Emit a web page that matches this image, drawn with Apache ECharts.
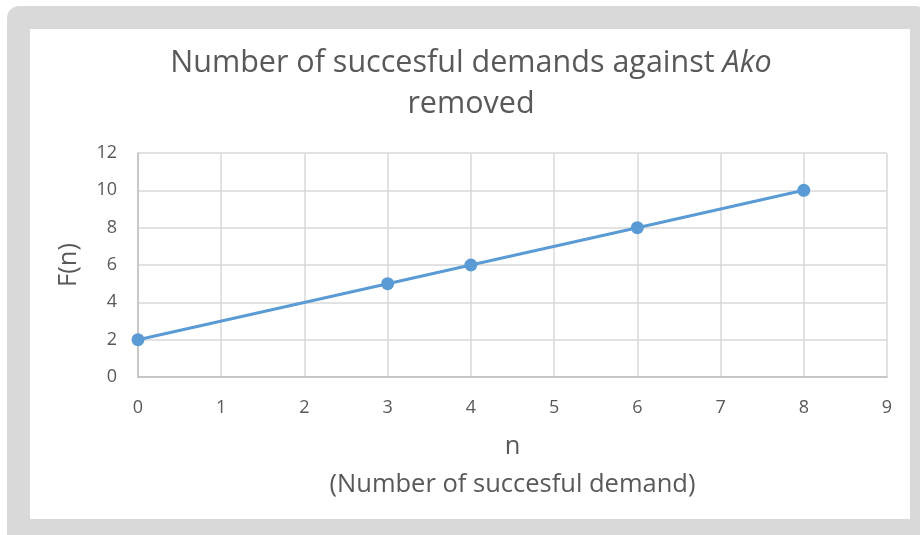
<!DOCTYPE html>
<html>
<head>
<meta charset="utf-8">
<script src="https://cdn.jsdelivr.net/npm/echarts@6/dist/echarts.min.js"></script>
<style>
  html, body { margin: 0; padding: 0; background: #fff; }
  #chart { width: 920px; height: 535px; }
</style>
</head>
<body>
<div id="chart"></div>
<script>
const nValues = [0, 3, 4, 6, 8];
const fValues = [2, 5, 6, 8, 10];

const font = "'Open Sans', 'Liberation Sans', sans-serif";
const textColor = '#595959';

const chart = echarts.init(document.getElementById('chart'), null, { renderer: 'canvas' });

const option = {
  animation: false,
  graphic: [
    { type: 'rect', z: -10, shape: { x: 7, y: 6, width: 920, height: 540, r: 12 }, style: { fill: '#d9d9d9' } },
    { type: 'rect', z: -9, shape: { x: 30, y: 29, width: 880, height: 490 }, style: { fill: '#ffffff' } }
  ],
  title: {
    text: 'Number of succesful demands against {i|Ako}\nremoved',
    left: 466,
    textAlign: 'center',
    top: 38,
    textStyle: {
      fontFamily: font,
      fontSize: 30.5,
      fontWeight: 'normal',
      color: textColor,
      lineHeight: 41,
      rich: {
        i: { fontFamily: font, fontSize: 30.5, fontStyle: 'italic', color: textColor, lineHeight: 41 }
      }
    }
  },
  grid: { left: 138, right: 33, top: 153, bottom: 158 },
  xAxis: {
    type: 'value',
    min: 0,
    max: 9,
    interval: 1,
    name: 'n\n(Number of succesful demand)',
    nameLocation: 'middle',
    nameGap: 51,
    nameTextStyle: { fontFamily: font, fontSize: 25.5, color: textColor, lineHeight: 38 },
    axisLine: { show: true, lineStyle: { color: '#bfbfbf', width: 1.5 } },
    axisTick: { show: false },
    axisLabel: { fontFamily: font, fontSize: 18, color: textColor, margin: 22 },
    splitLine: { show: true, lineStyle: { color: '#d9d9d9', width: 1.5 } }
  },
  yAxis: {
    type: 'value',
    min: 0,
    max: 12,
    interval: 2,
    name: 'F(n)',
    nameLocation: 'middle',
    nameGap: 56,
    nameTextStyle: { fontFamily: font, fontSize: 25.5, color: textColor },
    axisLine: { show: true, lineStyle: { color: '#bfbfbf', width: 1.5 } },
    axisTick: { show: false },
    axisLabel: { fontFamily: font, fontSize: 18, color: textColor, margin: 21 },
    splitLine: { show: true, lineStyle: { color: '#d9d9d9', width: 1.5 } }
  },
  series: [{
    type: 'line',
    data: nValues.map((n, i) => [n, fValues[i]]),
    symbol: 'circle',
    symbolSize: 13,
    lineStyle: { color: '#5b9bd5', width: 3 },
    itemStyle: { color: '#5b9bd5' }
  }]
};

chart.setOption(option);
</script>
</body>
</html>
